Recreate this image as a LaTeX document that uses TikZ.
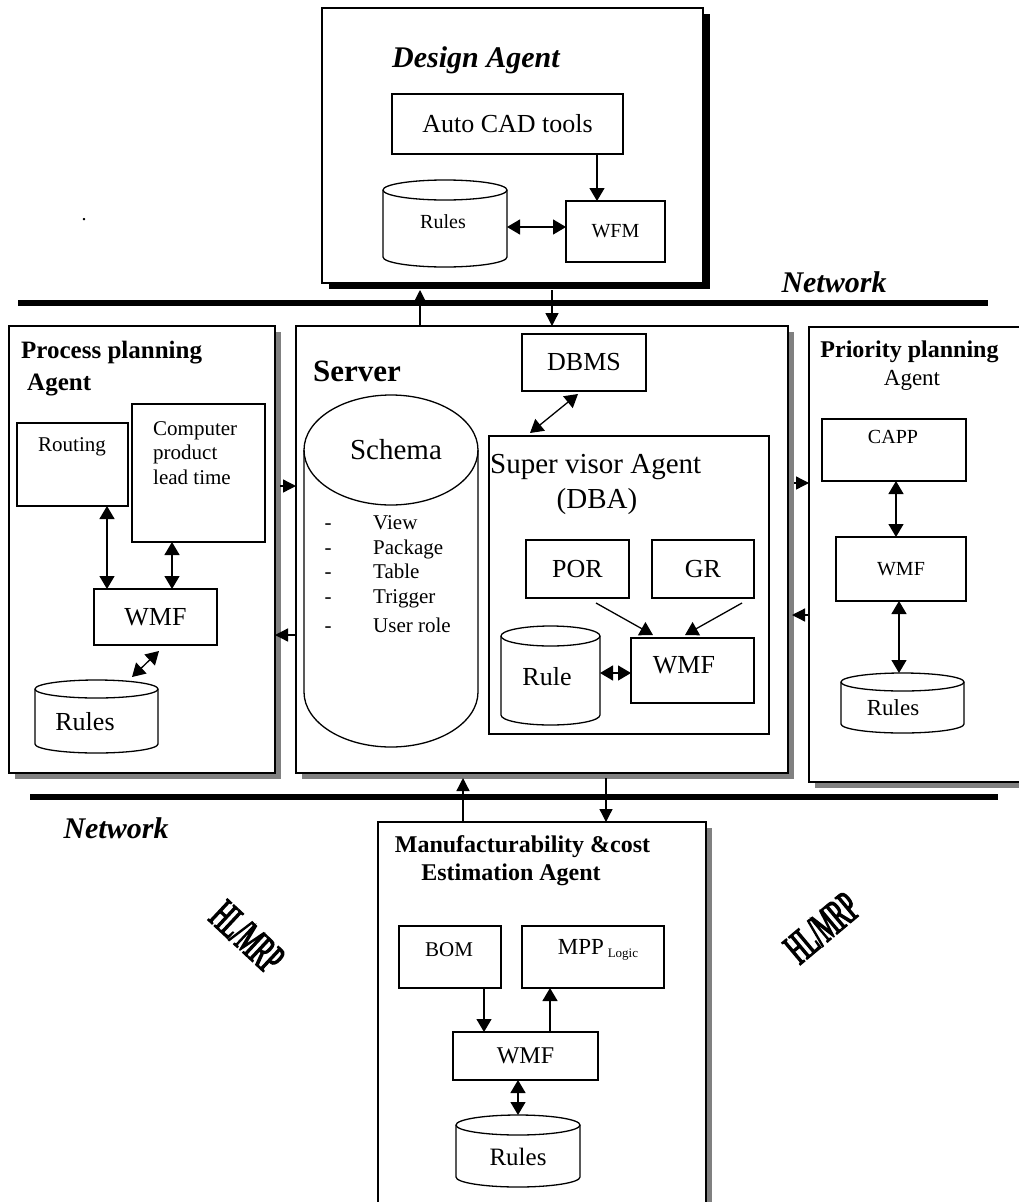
\documentclass[tikz,border=0pt]{standalone}
\usepackage{fontspec}
\setmainfont{Liberation Serif}
\newfontfamily\hlfont[FakeStretch=0.5, FakeBold=3]{Liberation Serif}
\usetikzlibrary{arrows.meta,shadows,calc}
\newcommand\fsz[1]{\fontsize{#1}{#1}\selectfont}
% cylinder: name, cx, ytop, ybot, rx, ry, font size, text, text position
\newcommand\cylin[9]{%
  \draw[line width=1.3pt, fill=white] (#2-#5,#3+#6) -- (#2-#5,#4-#6)
     arc[start angle=180, end angle=0, x radius=#5, y radius=#6]
     -- (#2+#5,#3+#6)
     arc[start angle=0, end angle=-180, x radius=#5, y radius=#6] -- cycle;
  \draw[line width=1.3pt] (#2-#5,#3+#6) arc[start angle=180, end angle=0, x radius=#5, y radius=#6];
  \node[inner sep=0pt, outer sep=0pt, minimum width={2*#5*1pt}, minimum height={(#4-#3)*1pt}] (#1) at (#2,{(#3+#4)/2}) {};
  \node[font=\fsz{#7}] (#1-t) at (#9) {#8};
}
\begin{document}
\begin{tikzpicture}[x=1pt,y=-1pt,
  box/.style={draw, line width=1.3pt, fill=white, inner sep=0pt, outer sep=0pt},
  agent/.style={box, line width=1.5pt, drop shadow={shadow xshift=6pt, shadow yshift=-6pt, fill=gray, opacity=1}},
  darkagent/.style={box, line width=1.5pt, drop shadow={shadow xshift=7pt, shadow yshift=-6pt, fill=black, opacity=1}},
  arr/.style={-{Triangle[length=13pt,width=15pt]}, line width=1.3pt},
  darr/.style={{Triangle[length=13pt,width=15pt]}-{Triangle[length=13pt,width=15pt]}, line width=1.3pt},
  narr/.style={-{Triangle[length=13pt,width=13pt]}, line width=1.3pt},
  net/.style={line width=6pt},
  txt/.style={inner sep=0pt}
]
\useasboundingbox (0,0) rectangle (1018,1202);

% network lines
\draw[net] (18,303) -- (988,303);
\draw[net] (30,797) -- (998,797);
\node[font=\fsz{30}\bfseries\itshape] (net1) at (834,282) {Network};
\node[font=\fsz{30}\bfseries\itshape] (net2) at (116,828) {Network};
\node[font=\fsz{20}] (dot) at (84,220) {.};

% ---------- Design agent ----------
\node[darkagent, minimum width=381pt, minimum height=275pt] (design) at (512.5,145.5) {};
\node[font=\fsz{30}\bfseries\itshape] (dtitle) at (476,60) {Design Agent};
\node[box, minimum width=231pt, minimum height=60pt, font=\fsz{26}] (cad) at (507.5,124) {Auto CAD tools};
\node[box, minimum width=99pt, minimum height=61pt, font=\fsz{20}] (dwfm) at (615.5,231.5) {WFM};
\cylin{drules}{445}{180}{267}{62}{10}{20}{Rules}{443,222}
\coordinate (k1) at (597,0);
\draw[arr] (cad.south -| k1) -- (dwfm.north -| k1);
\coordinate (k2) at (0,227);
\draw[darr] (drules.east |- k2) -- (dwfm.west |- k2);

% ---------- Server ----------
\node[agent, minimum width=492pt, minimum height=447pt] (server) at (542,549.5) {};
\node[font=\fsz{31}\bfseries, anchor=base west, txt] (stitle) at (313,381) {Server};
\node[box, minimum width=124pt, minimum height=57pt, font=\fsz{26}] (dbms) at (584,362.5) {DBMS};
\cylin{schema}{391}{395}{747}{87}{55}{29}{Schema}{396,450}
\foreach \yy/\tt/\nm in {529/View/l1, 554/Package/l2, 578/Table/l3, 603/Trigger/l4, 632/User role/l5}{
  \node[font=\fsz{21}, anchor=base, txt] (\nm-d) at (328,\yy) {-};
  \node[font=\fsz{21}, anchor=base west, txt] (\nm) at (373,\yy) {\tt};
}
\node[box, minimum width=280pt, minimum height=298pt] (sup) at (629,585) {};
\node[font=\fsz{29}, anchor=west, txt] (suptitle) at (490,467) {Super visor Agent};
\node[font=\fsz{29}] (dba) at (597,502) {(DBA)};
\node[box, minimum width=103pt, minimum height=58pt, font=\fsz{26}] (por) at (577.5,569) {POR};
\node[box, minimum width=102pt, minimum height=58pt, font=\fsz{26}] (gr) at (703,569) {GR};
\node[box, minimum width=123pt, minimum height=65pt] (swmf) at (692.5,670.5) {};
\node[font=\fsz{26}] (swmf-t) at (684,665) {WMF};
\cylin{srule}{550.5}{626}{725}{49.5}{10}{26}{Rule}{547,677}
\draw[darr] ($(dbms.south)+(-6,3)$) -- ($(sup.north)+(-99,-3)$);
\draw[arr] ($(por.south)+(18.5,5)$) -- ($(swmf.north)+(-39.5,-3)$);
\draw[arr] ($(gr.south)+(39,5)$) -- ($(swmf.north)+(-7.5,-3)$);
\coordinate (k9) at (0,673);
\draw[darr] (srule.east |- k9) -- (swmf.west |- k9);

% design <-> server through network
\coordinate (k3) at (420,0);
\draw[narr] (server.north -| k3) -- ($(design.south -| k3)+(0,7)$);
\coordinate (k4) at (552,0);
\draw[narr] ($(design.south -| k4)+(0,7)$) -- (server.north -| k4);

% ---------- Process planning agent ----------
\node[agent, minimum width=266pt, minimum height=447pt] (proc) at (142,549.5) {};
\node[font=\fsz{25}\bfseries, anchor=west, txt] (ptitle1) at (21,353) {Process planning};
\node[font=\fsz{25}\bfseries, anchor=west, txt] (ptitle2) at (27,385) {Agent};
\node[box, minimum width=111pt, minimum height=83pt] (routing) at (72.5,464.5) {};
\node[font=\fsz{21}] (routing-t) at (72,447) {Routing};
\node[box, minimum width=133pt, minimum height=138pt] (comp) at (198.5,473) {};
\node[font=\fontsize{21}{24.5}\selectfont, align=left, anchor=north west, txt] (comp-t) at (153,421) {Computer\\product\\lead time};
\node[box, minimum width=123pt, minimum height=56pt, font=\fsz{26}] (pwmf) at (155.5,617) {WMF};
\cylin{prules}{96.5}{680}{753}{61.5}{9}{26}{Rules}{85,722}
\coordinate (k10) at (107,0);
\draw[darr] (routing.south -| k10) -- (pwmf.north -| k10);
\coordinate (k11) at (172,0);
\draw[darr] (comp.south -| k11) -- (pwmf.north -| k11);
\draw[darr] ($(pwmf.south)+(3.5,6)$) -- ($(prules.north)+(35.5,-3)$);
\coordinate (k5) at (0,486);
\draw[narr] ($(proc.east |- k5)+(5,0)$) -- (server.west |- k5);
\coordinate (k6) at (0,635);
\draw[narr] (server.west |- k6) -- (proc.east |- k6);

% ---------- Priority planning agent ----------
\node[agent, minimum width=221pt, minimum height=455pt] (prio) at (919.5,554.5) {};
\node[font=\fsz{24}\bfseries] (qtitle1) at (909.5,352) {Priority planning};
\node[font=\fsz{23}] (qtitle2) at (912,380) {Agent};
\node[box, minimum width=144pt, minimum height=62pt] (capp) at (894,450) {};
\node[font=\fsz{20}] (capp-t) at (893,437) {CAPP};
\node[box, minimum width=130pt, minimum height=64pt, font=\fsz{20}] (qwmf) at (901,569) {WMF};
\cylin{qrules}{902.5}{673}{733}{61.5}{9}{23}{Rules}{893,708}
\coordinate (k12) at (896,0);
\draw[darr] (capp.south -| k12) -- (qwmf.north -| k12);
\coordinate (k13) at (899,0);
\draw[darr] (qwmf.south -| k13) -- (qrules.north -| k13);
\coordinate (k7) at (0,483);
\draw[narr] ($(server.east |- k7)+(6,0)$) -- (prio.west |- k7);
\coordinate (k8) at (0,615);
\draw[narr] (prio.west |- k8) -- ($(server.east |- k8)+(4,0)$);

% ---------- Manufacturability agent ----------
\node[agent, minimum width=328pt, minimum height=393pt] (manuf) at (542,1018.5) {};
\node[font=\fsz{24}\bfseries] (mtitle1) at (522.5,847) {Manufacturability \&cost};
\node[font=\fsz{24}\bfseries] (mtitle2) at (511,875) {Estimation Agent};
\node[box, minimum width=102pt, minimum height=62pt] (bom) at (450,957) {};
\node[font=\fsz{21}] (bom-t) at (449,950) {BOM};
\node[box, minimum width=142pt, minimum height=62pt] (mpp) at (593,957) {};
\node[font=\fsz{23}] (mpp-t) at (598,950) {MPP\,\raisebox{-0.3ex}{\fsz{13}Logic}};
\node[box, minimum width=145pt, minimum height=48pt, font=\fsz{24}] (mwmf) at (525.5,1056) {WMF};
\cylin{mrules}{518}{1115}{1187}{62}{10}{25}{Rules}{518,1157}
\coordinate (k14) at (484,0);
\draw[arr] (bom.south -| k14) -- (mwmf.north -| k14);
\coordinate (k15) at (550,0);
\draw[arr] (mwmf.north -| k15) -- (mpp.south -| k15);
\coordinate (k16) at (518,0);
\draw[darr] (mwmf.south -| k16) -- (mrules.north -| k16);
\coordinate (k17) at (463,0);
\draw[narr] (manuf.north -| k17) -- ($(server.south -| k17)+(0,5)$);
\coordinate (k18) at (606,0);
\draw[narr] ($(server.south -| k18)+(0,5)$) -- (manuf.north -| k18);

% ---------- HL/MRP labels ----------
\node[font=\hlfont\fsz{44}, rotate=-43, inner sep=0pt] (hl1) at (247,937) {HL/MRP};
\node[font=\hlfont\fsz{44}, rotate=40, inner sep=0pt] (hl2) at (822,928) {HL/MRP};
\end{tikzpicture}
\end{document}
